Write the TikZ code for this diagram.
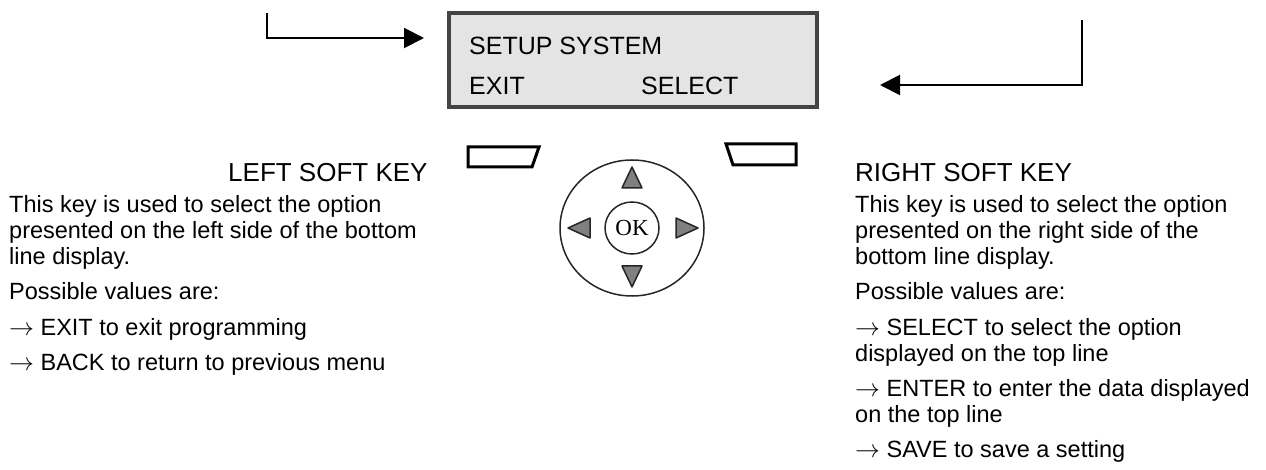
\documentclass[tikz,border=0pt]{standalone}
\usepackage{fontspec}
\setmainfont{Liberation Sans}
\newfontfamily\okfont{Liberation Serif}
\usetikzlibrary{arrows.meta,shapes.geometric}
\definecolor{lcdfill}{HTML}{E4E4E4}
\definecolor{lcdedge}{HTML}{444444}
\definecolor{trifill}{HTML}{808080}
\tikzset{
  body/.style={anchor=base west, inner sep=0pt, font=\fontsize{23.5}{26}\selectfont},
  keytitle/.style={anchor=base west, inner sep=0pt, font=\fontsize{26}{29}\selectfont},
  lcdtext/.style={anchor=base west, inner sep=0pt, font=\fontsize{25}{28}\selectfont},
  lcd/.style={draw=lcdedge, fill=lcdfill, line width=4pt, minimum width=368pt, minimum height=94pt, inner sep=0pt},
  feed/.style={line width=2pt, -{Triangle[length=20pt,width=20pt]}},
  softkey/.style={draw=black, line width=3pt, line join=miter},
  navring/.style={draw=black!85, line width=1.5pt, ellipse, inner sep=0pt},
  navtri/.style={draw=black!85, fill=trifill, line width=1.5pt, line join=round},
}
\begin{document}
\begin{tikzpicture}[x=1pt,y=-1pt]
\useasboundingbox (0,0) rectangle (1266,470);

% display
\node[lcd] (disp) at (633,60) {};
\node[lcdtext] (l1) at (469,55) {SETUP SYSTEM};
\node[lcdtext] (l2a) at (469,95) {EXIT};
\node[lcdtext] (l2b) at (641,95) {SELECT};

% arrows toward display
\coordinate (lstart) at (267,13);
\coordinate (ltip) at (424,38);
\draw[feed] (lstart) |- (ltip);
\coordinate (rstart) at (1082,20);
\coordinate (rtip) at (880,85);
\draw[feed] (rstart) |- (rtip);

% soft keys
\draw[softkey] (468,147) -- (539,147) -- (532,167) -- (468,167) -- cycle;
\draw[softkey] (726,144) -- (796,144) -- (796,165) -- (733,165) -- cycle;

% navigation pad
\node[navring, minimum width=144pt, minimum height=136pt] (pad) at (632,228) {};
\node[navring, minimum width=54pt, minimum height=52pt, font=\okfont\fontsize{23}{25}\selectfont] (ok) at (632,228) {OK};
\draw[navtri] (632,167) -- (642,188) -- (622,188) -- cycle;
\draw[navtri] (632,287) -- (642,266) -- (622,266) -- cycle;
\draw[navtri] (568,228) -- (590,218) -- (590,238) -- cycle;
\draw[navtri] (698,228) -- (676,218) -- (676,238) -- cycle;

% left description
\node[keytitle] (lt) at (228,182) {LEFT SOFT KEY};
\node[body] (la1) at (9,213) {This key is used to select the option};
\node[body] (la2) at (9,239) {presented on the left side of the bottom};
\node[body] (la3) at (9,265) {line display.};
\node[body] (lb) at (9,300) {Possible values are:};
\node[body] (lc) at (9,335) {$\rightarrow$ EXIT to exit programming};
\node[body] (ld) at (9,370) {$\rightarrow$ BACK to return to previous menu};

% right description
\node[keytitle] (rt) at (855,182) {RIGHT SOFT KEY};
\node[body] (ra1) at (855,213) {This key is used to select the option};
\node[body] (ra2) at (855,239) {presented on the right side of the};
\node[body] (ra3) at (855,265) {bottom line display.};
\node[body] (rb) at (855,300) {Possible values are:};
\node[body] (rc1) at (855,335) {$\rightarrow$ SELECT to select the option};
\node[body] (rc2) at (855,361) {displayed on the top line};
\node[body] (rd1) at (855,396) {$\rightarrow$ ENTER to enter the data displayed};
\node[body] (rd2) at (855,422) {on the top line};
\node[body] (re) at (855,457) {$\rightarrow$ SAVE to save a setting};
\end{tikzpicture}
\end{document}
